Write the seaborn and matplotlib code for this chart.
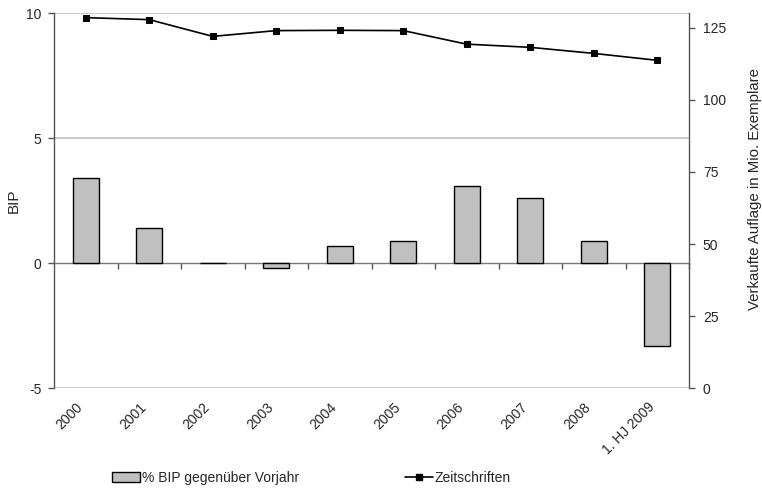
import matplotlib
matplotlib.use("Agg")
import matplotlib.pyplot as plt
import seaborn as sns
import pandas as pd
import numpy as np
from matplotlib.patches import Patch
from matplotlib.lines import Line2D
from matplotlib.transforms import ScaledTranslation

categories = ["2000", "2001", "2002", "2003", "2004", "2005", "2006", "2007", "2008", "1. HJ 2009"]
bip = [3.4, 1.4, 0.0, -0.2, 0.7, 0.9, 3.1, 2.6, 0.9, -3.3]
zeitschriften = [128.5, 127.8, 122.0, 124.0, 124.1, 124.0, 119.3, 118.2, 116.1, 113.7]
left_ticks = [-5, 0, 5, 10]
right_ticks = [0, 25, 50, 75, 100, 125]

sns.set_theme(style="white")
plt.rcParams["font.family"] = ["Liberation Sans", "DejaVu Sans"]
plt.rcParams["font.size"] = 10

fig = plt.figure(figsize=(7.62, 4.91), dpi=100)
ax = fig.add_axes([54/762, 1-388.3/491, (689-54)/762, (388.3-13.3)/491])

df = pd.DataFrame({"cat": categories, "bip": bip, "z": zeitschriften})
df["pos"] = np.arange(len(categories))

grid_c = "#c0c0c0"
for y in [5, 10, -5]:
    ax.axhline(y, color=grid_c, lw=1.2, zorder=0)

sns.barplot(data=df, x="cat", y="bip", color="#c0c0c0", edgecolor="black",
            linewidth=1.0, width=0.41, saturation=1, ax=ax, zorder=2)
ax.set_xlim(-0.5, len(categories) - 0.5)
ax.set_ylim(-5, 10)
ax.set_yticks(left_ticks)
ax.set_yticklabels([str(t) for t in left_ticks])
ax.set_ylabel("BIP", fontsize=11)
ax.yaxis.set_label_coords((14 - 54) / 635, 0.5)
ax.set_xlabel("")

for s in ["top", "bottom", "right"]:
    ax.spines[s].set_visible(False)
ax.spines["left"].set_color("#555555")
ax.spines["left"].set_linewidth(1.0)
ax.tick_params(axis="y", direction="out", length=4, width=1, color="#555555", pad=5, labelsize=10)
ax.tick_params(axis="x", length=0, pad=12, labelsize=10)
ax.set_xticks(range(len(categories)))
ax.set_xticklabels(categories, rotation=45, ha="right", va="center", rotation_mode="anchor")
shift = ScaledTranslation(-5/100, 0, fig.dpi_scale_trans)
for lab in ax.get_xticklabels():
    lab.set_transform(lab.get_transform() + shift)

# category axis line at y = 0 with boundary ticks
sec = ax.secondary_xaxis(1/3)
sec.set_xticks(np.arange(len(categories)) + 0.5)
sec.set_xticklabels([])
sec.tick_params(direction="out", length=4, width=1, color="#555555")
sec.spines["bottom"].set_color("#777777")
sec.spines["bottom"].set_linewidth(1.0)
for s in ["top", "left", "right"]:
    sec.spines[s].set_visible(False)

ax2 = ax.twinx()
sns.lineplot(data=df, x="pos", y="z", color="black", lw=1.2, marker="s",
             markersize=4.2, markeredgecolor="black", ax=ax2, zorder=3)
ax2.set_ylim(0, 130)
ax2.set_yticks(right_ticks)
ax2.set_yticklabels([str(t) for t in right_ticks])
ax2.set_ylabel("Verkaufte Auflage in Mio. Exemplare", fontsize=10.8)
ax2.yaxis.set_label_coords((755 - 54) / 635, (388.3 - 189) / 375)
ax2.yaxis.label.set_verticalalignment("center")
ax2.set_xlabel("")
for s in ["top", "bottom", "left"]:
    ax2.spines[s].set_visible(False)
ax2.spines["right"].set_color("#555555")
ax2.spines["right"].set_linewidth(1.0)
ax2.tick_params(axis="y", direction="out", length=4, width=1, color="#555555", pad=6, labelsize=10)
ax2.set_xlim(-0.5, len(categories) - 0.5)
ax2.grid(False)
ax.grid(False)
ax.yaxis.label.set_verticalalignment("center")

handles = [Patch(facecolor="#c0c0c0", edgecolor="black", linewidth=1.0),
           Line2D([0], [0], color="black", lw=1.2, marker="s", markersize=4)]
labels = ["% BIP gegenüber Vorjahr", "Zeitschriften"]
fig.legend(handles, labels, loc="center", bbox_to_anchor=(0.409, 0.027), ncol=2,
           frameon=False, fontsize=10, handlelength=2.0, handletextpad=0.15,
           columnspacing=7.6)

fig.savefig("out.png", dpi=100)
